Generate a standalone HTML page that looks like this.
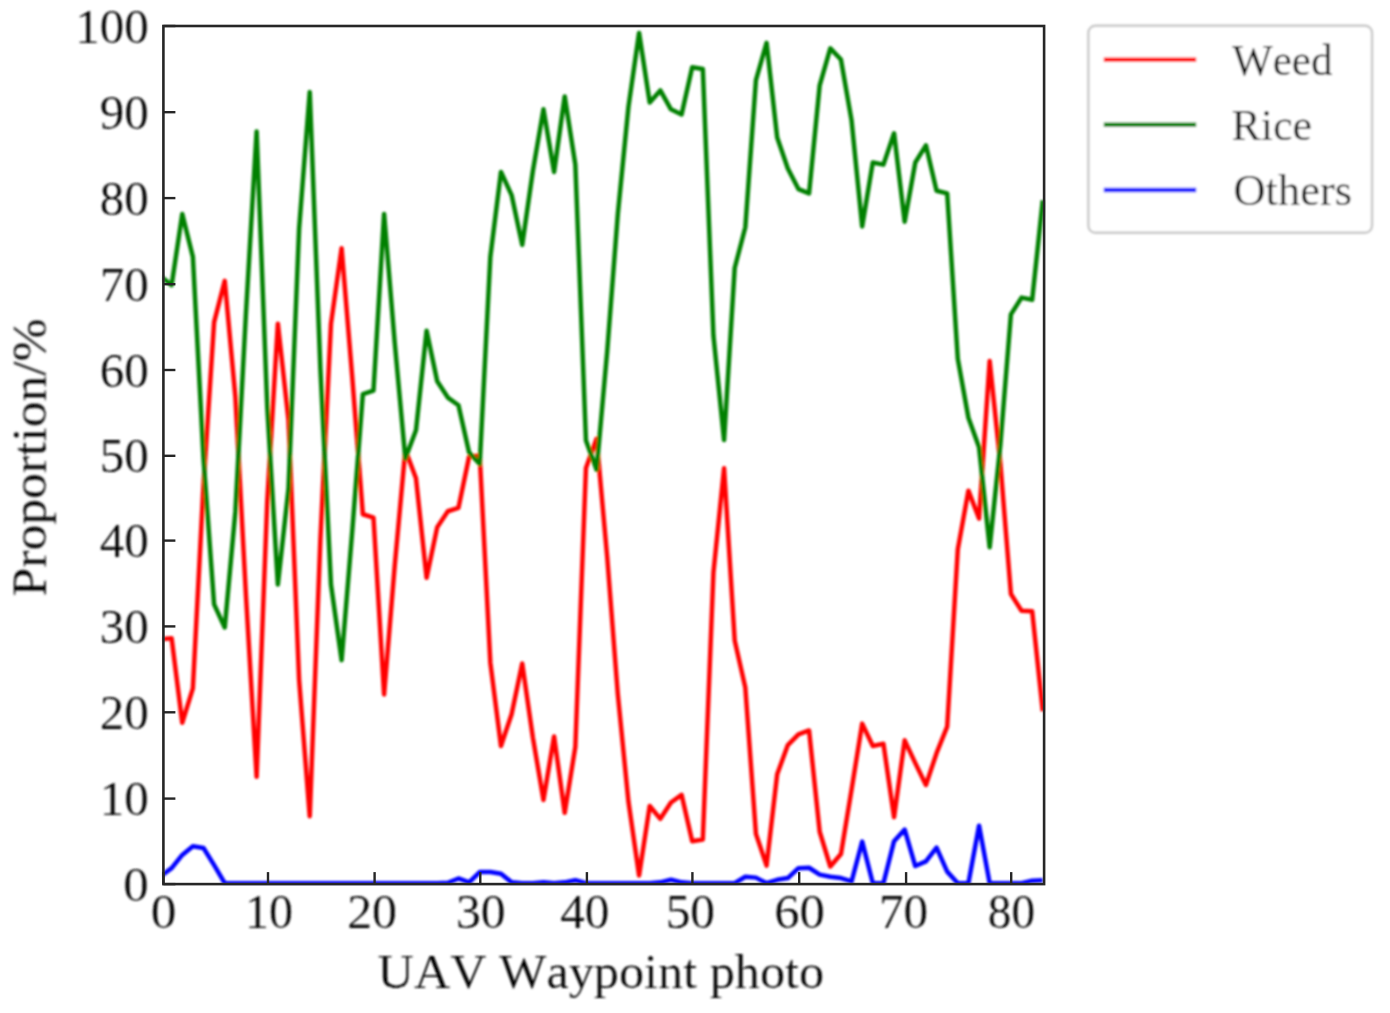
<!DOCTYPE html>
<html><head><meta charset="utf-8"><title>Proportion chart</title>
<style>
html,body{margin:0;padding:0;background:#fff;}
body{width:1390px;height:1013px;overflow:hidden;}
svg{display:block;}
text{stroke:#fff;stroke-width:0.1px;font-kerning:none;font-family:"Liberation Serif","Times New Roman",serif;fill:#000;}
.tk{font-size:48px;}
.lab{font-size:48px;}
.leg{font-size:44px;}
</style></head><body>
<svg width="1390" height="1013" viewBox="0 0 1390 1013">
<rect x="0" y="0" width="1390" height="1013" fill="#fff"/>
<defs><filter id="f1" filterUnits="userSpaceOnUse" x="0" y="0" width="1390" height="1013"><feGaussianBlur stdDeviation="1.0"/></filter><filter id="f2" filterUnits="userSpaceOnUse" x="0" y="0" width="1390" height="1013"><feGaussianBlur stdDeviation="0.7"/></filter><filter id="f3" filterUnits="userSpaceOnUse" x="0" y="0" width="1390" height="1013"><feGaussianBlur stdDeviation="0.85"/></filter><clipPath id="ax"><rect x="163.4" y="26.0" width="880.6999999999999" height="858.1"/></clipPath></defs>
<g filter="url(#f1)"><g clip-path="url(#ax)" fill="none" stroke-width="4.5" stroke-linejoin="round" stroke-linecap="butt">
<polyline stroke="#ff0000" points="161.00,639.10 171.62,638.24 182.25,722.75 192.87,688.43 203.50,485.09 214.12,322.07 224.74,280.88 235.37,396.71 245.99,595.77 256.62,776.81 267.24,501.39 277.86,323.78 288.49,419.88 299.11,679.85 309.74,816.28 320.36,540.00 330.98,323.78 341.61,248.28 352.23,376.98 362.86,514.26 373.48,517.69 384.10,694.44 394.73,565.74 405.35,449.91 415.98,478.22 426.60,577.75 437.22,527.13 447.85,511.26 458.47,507.83 469.10,456.77 479.72,455.49 490.34,662.69 500.97,745.92 511.59,714.17 522.22,663.55 532.84,737.34 543.46,799.97 554.09,736.48 564.71,812.84 575.34,746.78 585.96,467.93 596.58,438.76 607.21,557.16 617.83,694.44 628.46,801.69 639.08,875.48 649.70,805.98 660.33,818.85 670.95,802.55 681.58,794.83 692.20,841.16 702.82,839.44 713.45,572.60 724.07,468.36 734.70,640.39 745.32,687.58 755.94,833.87 766.57,865.61 777.19,774.23 787.82,745.06 798.44,734.34 809.06,730.48 819.69,831.72 830.31,866.47 840.94,854.03 851.56,789.68 862.18,723.61 872.81,745.92 883.43,743.78 894.06,817.13 904.68,740.34 915.30,763.08 925.93,784.96 936.55,753.21 947.18,726.62 957.80,549.44 968.42,490.67 979.05,518.55 989.67,361.11 1000.30,462.78 1010.92,594.05 1021.54,610.79 1032.17,611.21 1042.79,711.17"/>
<polyline stroke="#008000" points="161.00,276.59 171.62,285.17 182.25,213.96 192.87,256.86 203.50,458.49 214.12,604.35 224.74,627.52 235.37,511.69 245.99,312.63 256.62,131.59 267.24,407.01 277.86,584.62 288.49,488.52 299.11,228.55 309.74,92.12 320.36,368.40 330.98,584.62 341.61,660.12 352.23,531.42 362.86,394.14 373.48,390.71 384.10,213.96 394.73,342.66 405.35,458.49 415.98,430.18 426.60,330.65 437.22,381.27 447.85,397.57 458.47,405.29 469.10,452.48 479.72,464.07 490.34,256.86 500.97,171.92 511.59,195.08 522.22,244.85 532.84,171.06 543.46,109.28 554.09,171.92 564.71,96.41 575.34,164.62 585.96,440.47 596.58,469.64 607.21,351.24 617.83,213.96 628.46,106.71 639.08,32.92 649.70,102.42 660.33,90.41 670.95,109.28 681.58,114.43 692.20,67.24 702.82,68.96 713.45,335.80 724.07,440.04 734.70,268.01 745.32,227.26 755.94,80.11 766.57,42.79 777.19,137.60 787.82,168.49 798.44,189.08 809.06,193.37 819.69,85.26 830.31,48.37 840.94,59.52 851.56,120.44 862.18,226.40 872.81,162.48 883.43,164.62 894.06,133.31 904.68,221.68 915.30,162.48 925.93,145.32 936.55,190.79 947.18,193.37 957.80,358.96 968.42,417.74 979.05,447.34 989.67,547.29 1000.30,445.62 1010.92,314.35 1021.54,297.62 1032.17,299.76 1042.79,200.23"/>
<polyline stroke="#0000ff" points="161.00,875.91 171.62,868.19 182.25,854.89 192.87,846.31 203.50,848.02 214.12,865.18 224.74,883.20 235.37,883.20 245.99,883.20 256.62,883.20 267.24,883.20 277.86,883.20 288.49,883.20 299.11,883.20 309.74,883.20 320.36,883.20 330.98,883.20 341.61,883.20 352.23,883.20 362.86,883.20 373.48,883.20 384.10,883.20 394.73,883.20 405.35,883.20 415.98,883.20 426.60,883.20 437.22,883.20 447.85,882.77 458.47,878.48 469.10,882.34 479.72,872.05 490.34,872.05 500.97,873.76 511.59,882.34 522.22,883.20 532.84,883.20 543.46,882.34 554.09,883.20 564.71,882.34 575.34,880.20 585.96,883.20 596.58,883.20 607.21,883.20 617.83,883.20 628.46,883.20 639.08,883.20 649.70,883.20 660.33,882.34 670.95,879.77 681.58,882.34 692.20,883.20 702.82,883.20 713.45,883.20 724.07,883.20 734.70,883.20 745.32,876.77 755.94,877.62 766.57,883.20 777.19,879.77 787.82,878.05 798.44,868.19 809.06,867.76 819.69,874.62 830.31,876.77 840.94,878.05 851.56,881.48 862.18,841.59 872.81,883.20 883.43,883.20 894.06,841.16 904.68,829.58 915.30,866.04 925.93,861.32 936.55,847.59 947.18,871.62 957.80,883.20 968.42,883.20 979.05,825.71 989.67,883.20 1000.30,883.20 1010.92,883.20 1021.54,883.20 1032.17,880.63 1042.79,880.20"/>
</g></g>
<g><g stroke="#262626" stroke-width="2.4" fill="none">
<line x1="163.40" y1="884.1" x2="163.40" y2="872.1"/>
<line x1="268.00" y1="884.1" x2="268.00" y2="872.1"/>
<line x1="374.60" y1="884.1" x2="374.60" y2="872.1"/>
<line x1="480.30" y1="884.1" x2="480.30" y2="872.1"/>
<line x1="586.90" y1="884.1" x2="586.90" y2="872.1"/>
<line x1="692.40" y1="884.1" x2="692.40" y2="872.1"/>
<line x1="799.20" y1="884.1" x2="799.20" y2="872.1"/>
<line x1="906.10" y1="884.1" x2="906.10" y2="872.1"/>
<line x1="1011.20" y1="884.1" x2="1011.20" y2="872.1"/>
<line x1="163.4" y1="884.10" x2="175.4" y2="884.10"/>
<line x1="163.4" y1="798.60" x2="175.4" y2="798.60"/>
<line x1="163.4" y1="712.30" x2="175.4" y2="712.30"/>
<line x1="163.4" y1="626.40" x2="175.4" y2="626.40"/>
<line x1="163.4" y1="540.60" x2="175.4" y2="540.60"/>
<line x1="163.4" y1="455.80" x2="175.4" y2="455.80"/>
<line x1="163.4" y1="370.00" x2="175.4" y2="370.00"/>
<line x1="163.4" y1="284.20" x2="175.4" y2="284.20"/>
<line x1="163.4" y1="198.10" x2="175.4" y2="198.10"/>
<line x1="163.4" y1="112.20" x2="175.4" y2="112.20"/>
<line x1="163.4" y1="26.00" x2="175.4" y2="26.00"/>
</g>
<rect x="163.4" y="26.0" width="880.70" height="858.10" fill="none" stroke="#262626" stroke-width="2.6"/></g>
<g filter="url(#f3)">
<text class="tk" transform="translate(163.70,927.6) scale(1.07,1)" text-anchor="middle">0</text>
<text class="tk" transform="translate(269.10,927.6) scale(1.0,1)" text-anchor="middle">10</text>
<text class="tk" transform="translate(372.10,927.6) scale(1.04,1)" text-anchor="middle">20</text>
<text class="tk" transform="translate(480.70,927.6) scale(1.035,1)" text-anchor="middle">30</text>
<text class="tk" transform="translate(584.80,927.6) scale(1.027,1)" text-anchor="middle">40</text>
<text class="tk" transform="translate(690.30,927.6) scale(1.027,1)" text-anchor="middle">50</text>
<text class="tk" transform="translate(799.50,927.6) scale(1.055,1)" text-anchor="middle">60</text>
<text class="tk" transform="translate(903.50,927.6) scale(1.025,1)" text-anchor="middle">70</text>
<text class="tk" transform="translate(1011.50,927.6) scale(0.985,1)" text-anchor="middle">80</text>
<text class="tk" transform="translate(148.7,900.70) scale(1.06,1)" text-anchor="end">0</text>
<text class="tk" transform="translate(148.7,815.20) scale(1.02,1)" text-anchor="end">10</text>
<text class="tk" transform="translate(148.7,728.90) scale(1.02,1)" text-anchor="end">20</text>
<text class="tk" transform="translate(148.7,643.00) scale(1.02,1)" text-anchor="end">30</text>
<text class="tk" transform="translate(148.7,557.20) scale(1.02,1)" text-anchor="end">40</text>
<text class="tk" transform="translate(148.7,472.40) scale(1.02,1)" text-anchor="end">50</text>
<text class="tk" transform="translate(148.7,386.60) scale(1.02,1)" text-anchor="end">60</text>
<text class="tk" transform="translate(148.7,300.80) scale(1.02,1)" text-anchor="end">70</text>
<text class="tk" transform="translate(148.7,214.70) scale(1.02,1)" text-anchor="end">80</text>
<text class="tk" transform="translate(148.7,128.80) scale(1.02,1)" text-anchor="end">90</text>
<text class="tk" transform="translate(148.7,42.60) scale(1.02,1)" text-anchor="end">100</text>
<text class="lab" transform="translate(600.85,988.0) scale(1.047,1)" text-anchor="middle">UAV Waypoint photo</text>
<text class="lab" transform="translate(45.8,457.4) rotate(-90) scale(1.075,1)" text-anchor="middle">Proportion/%</text>
</g>
<g filter="url(#f1)">
<rect x="1088.4" y="25.7" width="283.6" height="207.1" rx="7" ry="7" fill="#fff" stroke="#c8c8c8" stroke-width="2.4"/>
<line x1="1103.8" y1="59.75" x2="1196.2" y2="59.75" stroke="#ff0000" stroke-width="4.5"/>
<text class="leg" transform="translate(1232,74.7) scale(0.98,1)">Weed</text>
<line x1="1103.8" y1="124.85000000000001" x2="1196.2" y2="124.85000000000001" stroke="#008000" stroke-width="4.5"/>
<text class="leg" transform="translate(1231.5,139.8) scale(1.0,1)">Rice</text>
<line x1="1103.8" y1="190.04999999999998" x2="1196.2" y2="190.04999999999998" stroke="#0000ff" stroke-width="4.5"/>
<text class="leg" transform="translate(1233.5,205.4) scale(1.01,1)">Others</text>
</g>
</svg></body></html>
